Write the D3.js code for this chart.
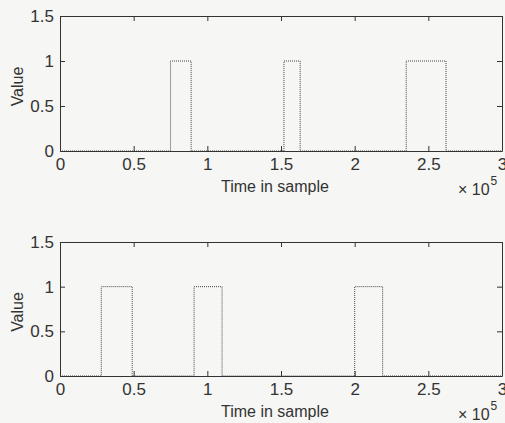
<!DOCTYPE html>
<html>
<head>
<meta charset="utf-8">
<script src="https://cdn.jsdelivr.net/npm/d3@7"></script>
<style>
  body { margin: 0; background: #f6f6f4; }
  svg { display: block; }
  text { font-family: "Liberation Sans", Arial, sans-serif; fill: #333; }
</style>
</head>
<body>
<div id="chart"></div>
<script>
// pulse edges (in samples) for each panel
var topStarts = [75000, 152000, 235000],
    topEnds   = [89000, 163000, 262000];
var botStarts = [28000, 91000, 200000],
    botEnds   = [49000, 110000, 219000];

var xTicks = [0, 50000, 100000, 150000, 200000, 250000, 300000];
var yTicks = [0, 0.5, 1, 1.5];
var xMax = 300000, yMax = 1.5;

var W = 505, H = 423;

var svg = d3.select("#chart")
    .append("svg")
        .attr("width", W)
        .attr("height", H);

// turn start/end lists into a step signal 0 -> 1 -> 0
function steps(starts, ends) {
    var pts = [[0, 0]];
    starts.forEach(function(s, i) {
        pts.push([s, 0], [s, 1], [ends[i], 1], [ends[i], 0]);
    });
    pts.push([xMax, 0]);
    return pts;
}

function panel(box, starts, ends) {
    var x = d3.scaleLinear().domain([0, xMax]).range([box.left, box.right]);
    var y = d3.scaleLinear().domain([0, yMax]).range([box.bottom, box.top]);
    var g = svg.append("g");
    var fmt = function(d) { return d3.format("~g")(d / 1e5); };

    // signal first, axes box over it
    var line = d3.line()
        .x(function(d) { return x(d[0]); })
        .y(function(d) { return y(d[1]); });
    g.append("path")
        .datum(steps(starts, ends))
        .attr("d", line)
        .attr("fill", "none")
        .attr("stroke", "#444")
        .attr("stroke-width", 1)
        .attr("stroke-dasharray", "1,1");

    g.append("g")
        .attr("transform", "translate(0," + box.bottom + ")")
        .call(d3.axisBottom(x).tickValues(xTicks).tickFormat(fmt)
            .tickSizeInner(-5).tickSizeOuter(0).tickPadding(7));
    g.append("g")
        .attr("transform", "translate(0," + box.top + ")")
        .call(d3.axisTop(x).tickValues(xTicks).tickFormat("")
            .tickSizeInner(-5).tickSizeOuter(0));
    g.append("g")
        .attr("transform", "translate(" + box.left + ",0)")
        .call(d3.axisLeft(y).tickValues(yTicks).tickFormat(d3.format("~g"))
            .tickSizeInner(-5).tickSizeOuter(0).tickPadding(6));
    g.append("g")
        .attr("transform", "translate(" + box.right + ",0)")
        .call(d3.axisRight(y).tickValues(yTicks).tickFormat("")
            .tickSizeInner(-5).tickSizeOuter(0));

    g.selectAll(".domain").attr("stroke", "#333");
    g.selectAll(".tick line").attr("stroke", "#333");
    g.selectAll(".tick text")
        .style("font-family", "'Liberation Sans', Arial, sans-serif")
        .attr("font-size", 17)
        .attr("fill", "#333");

    // axis names
    g.append("text")
        .attr("text-anchor", "middle")
        .attr("x", x(xMax / 2) - 6)
        .attr("y", box.bottom + 41)
        .attr("font-size", 16)
        .text("Time in sample");

    g.append("text")
        .attr("text-anchor", "middle")
        .attr("transform", "rotate(-90)")
        .attr("x", -(box.top + box.bottom) / 2 - 3)
        .attr("y", 23)
        .attr("font-size", 16)
        .text("Value");

    // exponent label
    var ex = g.append("text")
        .attr("x", box.right - 44)
        .attr("y", box.bottom + 44)
        .attr("font-size", 16);
    ex.append("tspan").text("\u00d7 10");
    ex.append("tspan").attr("dy", -10).attr("dx", 1).attr("font-size", 12).text("5");
}

panel({left: 60, right: 502, top: 16, bottom: 151}, topStarts, topEnds);
panel({left: 60, right: 502, top: 242, bottom: 376}, botStarts, botEnds);
</script>
</body>
</html>
